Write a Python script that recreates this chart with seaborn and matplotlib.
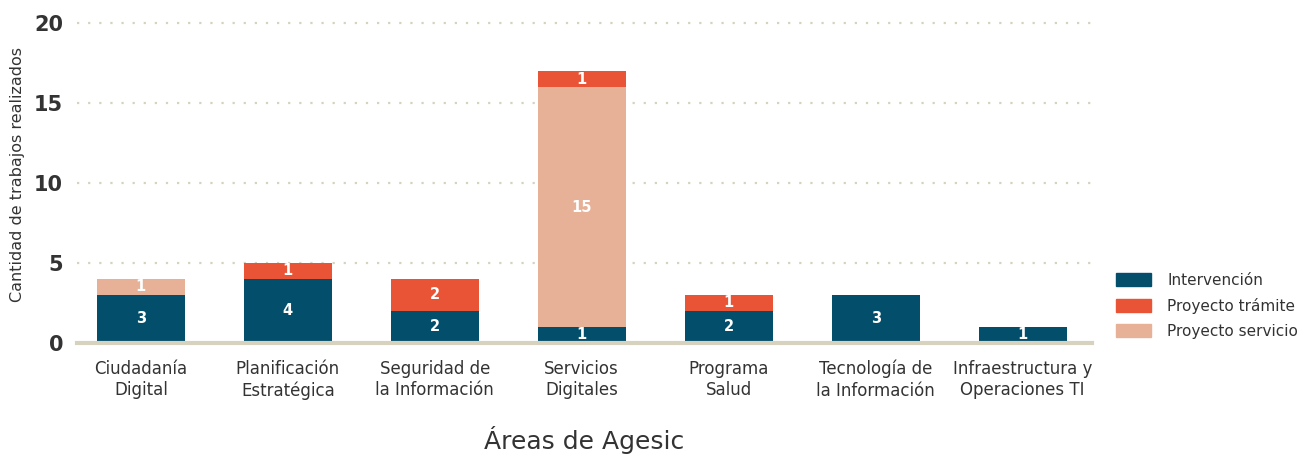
import matplotlib
matplotlib.use("Agg")
import matplotlib.pyplot as plt
import seaborn as sns
import pandas as pd
import numpy as np
from matplotlib.patches import Patch

categories = ["Ciudadanía\nDigital", "Planificación\nEstratégica", "Seguridad de\nla Información",
              "Servicios\nDigitales", "Programa\nSalud", "Tecnología de\nla Información",
              "Infraestructura y\nOperaciones TI"]
intervencion = [3, 4, 2, 1, 2, 3, 1]
proyecto_servicio = [1, 0, 0, 15, 0, 0, 0]
proyecto_tramite = [0, 1, 2, 1, 1, 0, 0]
yticks = [0, 5, 10, 15, 20]

c_int = "#034f6b"
c_tra = "#e95436"
c_ser = "#e6b196"
grid_c = "#d6d2bd"
txt_c = "#333333"

sns.set_theme(style="white")
plt.rcParams['font.family'] = ['DejaVu Sans']

df = pd.DataFrame({"area": categories, "int": intervencion,
                   "ser": proyecto_servicio, "tra": proyecto_tramite})
df["lvl1"] = df["int"]
df["lvl2"] = df["int"] + df["ser"]
df["lvl3"] = df["lvl2"] + df["tra"]

fig = plt.figure(figsize=(13.11, 4.61), dpi=100)
ax = fig.add_axes([0.0587, 0.256, 0.774, 0.694])

for col, colr in [("lvl3", c_tra), ("lvl2", c_ser), ("lvl1", c_int)]:
    sns.barplot(data=df, x="area", y=col, color=colr, saturation=1, width=0.6,
                ax=ax, linewidth=0, zorder=3)

# segment labels
for i, r in df.iterrows():
    base = 0
    for key in ["int", "ser", "tra"]:
        v = r[key]
        if v > 0:
            ax.text(i, base + v / 2, str(v), ha="center", va="center", color="white",
                    fontsize=10.5, fontweight="bold", zorder=5)
        base += v

ax.set_ylim(0, 20)
ax.set_xlim(-0.435, 6.47)
ax.set_yticks(yticks)
ax.set_yticklabels([str(t) for t in yticks], fontsize=15, fontweight="bold", color=txt_c)
ax.tick_params(axis="y", length=0, pad=10)
ax.tick_params(axis="x", length=0, pad=12, labelsize=12, labelcolor=txt_c)
for lab in ax.get_xticklabels():
    lab.set_linespacing(1.25)
for y in yticks[1:]:
    ax.axhline(y, color=grid_c, linestyle=(0, (1, 4)), linewidth=1.6, zorder=1, clip_on=False)
for s in ["top", "right", "left"]:
    ax.spines[s].set_visible(False)
ax.spines["bottom"].set_color(grid_c)
ax.spines["bottom"].set_linewidth(3)
ax.spines["bottom"].set_zorder(4)

ax.set_xlabel("Áreas de Agesic", fontsize=18, color=txt_c, labelpad=19)
ax.set_ylabel("")
fig.text(0.0137, 0.622, "Cantidad de trabajos realizados", rotation=90, ha="center",
         va="center", fontsize=11.5, color=txt_c)

handles = [Patch(color=c_int, label="Intervención"),
           Patch(color=c_tra, label="Proyecto trámite"),
           Patch(color=c_ser, label="Proyecto servicio")]
fig.legend(handles=handles, loc="center left", bbox_to_anchor=(0.841, 0.337), frameon=False,
           fontsize=11, handlelength=2.25, handleheight=0.95, labelspacing=0.65,
           handletextpad=1.1, labelcolor=txt_c)

fig.savefig("out.png", dpi=100, facecolor="white")
